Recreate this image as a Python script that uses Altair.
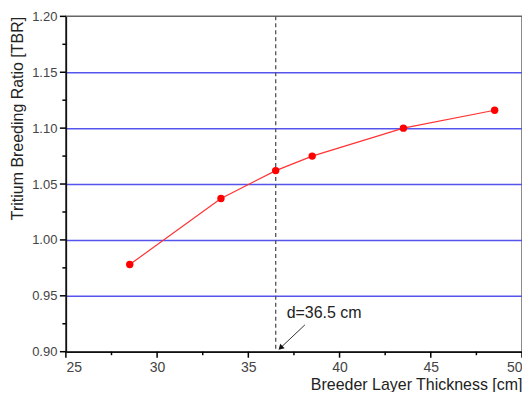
import altair as alt
import pandas as pd

thickness = [28.5, 33.5, 36.5, 38.5, 43.5, 48.5]
tbr = [0.978, 1.037, 1.062, 1.075, 1.100, 1.116]
marker_x = [36.5]
note_text = ["d=36.5 cm"]
note_x = [37.1]
note_y = [0.935]
arrow_x = [38.1, 36.8]
arrow_y = [0.924, 0.904]
y_major = [0.90, 0.95, 1.00, 1.05, 1.10, 1.15, 1.20]
y_minor = [0.925, 0.975, 1.025, 1.075, 1.125, 1.175]
x_major = [25, 30, 35, 40, 45, 50]
x_minor = [27.5, 32.5, 37.5, 42.5, 47.5]
x_domain = [25, 50]
y_domain = [0.90, 1.20]

df = pd.DataFrame({"x": thickness, "y": tbr})
FONT = "Liberation Sans"

xscale = alt.Scale(domain=x_domain, nice=False, zero=False)
yscale = alt.Scale(domain=y_domain, nice=False, zero=False)

xaxis = alt.Axis(
    values=x_major, format="d", orient="bottom",
    title="Breeder Layer Thickness [cm]",
    titleAnchor="end", titleFont=FONT, titleFontSize=16, titleFontWeight="normal",
    titleColor="#222", titlePadding=2,
    labelFont=FONT, labelFontSize=14, labelColor="#444", labelPadding=9,
    grid=False, ticks=False, domainColor="#111", domainWidth=1.5,
)
yaxis = alt.Axis(
    values=y_major, format=".2f", orient="left",
    title="Tritium Breeding Ratio [TBR]",
    titleAnchor="end", titleFont=FONT, titleFontSize=16, titleFontWeight="normal",
    titleColor="#222", titlePadding=6,
    labelFont=FONT, labelFontSize=13, labelColor="#444", labelPadding=9,
    ticks=False, domainColor="#111", domainWidth=1.5,
    grid=True, gridColor="#5555ee", gridWidth=1.5,
    gridOpacity={"condition": {"test": "datum.value > 0.91 && datum.value < 1.19", "value": 1}, "value": 0},
)

X = lambda f: alt.X(f, scale=xscale)
Y = lambda f: alt.Y(f, scale=yscale)

line = alt.Chart(df).mark_line(color="#ff3333", strokeWidth=1.2).encode(
    x=alt.X("x:Q", scale=xscale, axis=xaxis),
    y=alt.Y("y:Q", scale=yscale, axis=yaxis),
)
pts = alt.Chart(df).mark_circle(color="#ff0000", size=55, opacity=1).encode(
    x=X("x:Q"), y=Y("y:Q"))

# axis ticks (major and minor), placed on the axis lines via the scales
ymaj = pd.DataFrame({"y": y_major, "x": [x_domain[0]] * len(y_major)})
ymin = pd.DataFrame({"y": y_minor, "x": [x_domain[0]] * len(y_minor)})
xmaj = pd.DataFrame({"x": x_major, "y": [y_domain[0]] * len(x_major)})
xmin = pd.DataFrame({"x": x_minor, "y": [y_domain[0]] * len(x_minor)})
tick_style = dict(color="#000", thickness=1.5, opacity=1)
t1 = alt.Chart(ymaj).mark_tick(orient="horizontal", size=6, xOffset=-3, **tick_style).encode(x=X("x:Q"), y=Y("y:Q"))
t2 = alt.Chart(ymin).mark_tick(orient="horizontal", size=3.5, xOffset=-1.75, **tick_style).encode(x=X("x:Q"), y=Y("y:Q"))
t3 = alt.Chart(xmaj).mark_tick(orient="vertical", size=6, yOffset=3, **tick_style).encode(x=X("x:Q"), y=Y("y:Q"))
t4 = alt.Chart(xmin).mark_tick(orient="vertical", size=3.5, yOffset=1.75, **tick_style).encode(x=X("x:Q"), y=Y("y:Q"))

vline = alt.Chart(pd.DataFrame({"x": marker_x})).mark_rule(
    color="#555", strokeDash=[4, 3], strokeWidth=1.3
).encode(x=X("x:Q"))

note = alt.Chart(pd.DataFrame({"x": note_x, "y": note_y, "t": note_text})).mark_text(
    align="left", baseline="middle", font=FONT, fontSize=16, color="#222"
).encode(x=X("x:Q"), y=Y("y:Q"), text="t:N")

adf = pd.DataFrame({"x": arrow_x, "y": arrow_y, "o": [0, 1]})
arrow = alt.Chart(adf).mark_line(color="#333", strokeWidth=1).encode(
    x=X("x:Q"), y=Y("y:Q"), order="o:Q")
head = alt.Chart(adf.iloc[[1]]).mark_point(
    shape="triangle", filled=True, color="#111", size=40, angle=225, opacity=1
).encode(x=X("x:Q"), y=Y("y:Q"))

chart = alt.layer(line, vline, pts, note, arrow, head, t1, t2, t3, t4).properties(
    width=457, height=336,
    autosize=alt.AutoSizeParams(type="none"),
    padding={"left": 58, "top": 8, "right": 0, "bottom": 40},
).configure_view(stroke="#666", strokeWidth=1.5)

chart.save("out.html", embed_options={"renderer": "svg", "actions": False})
